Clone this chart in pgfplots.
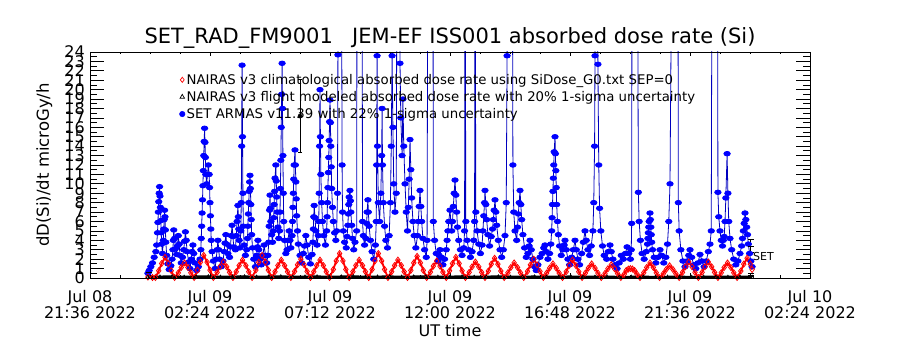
\documentclass[border=0pt]{standalone}
\usepackage{pgfplots}
\pgfplotsset{compat=1.18}
\usepackage{fontspec}
\setmainfont{DejaVu Sans}
\definecolor{setblue}{RGB}{0,0,255}
\definecolor{setline}{RGB}{0,0,190}
\definecolor{nred}{RGB}{255,0,0}
\begin{document}
\begin{tikzpicture}
\path[use as bounding box] (-90pt,-72pt) rectangle (810pt,278pt);
\begin{axis}[
  at={(0pt,0pt)}, anchor=south west,
  scale only axis, width=720pt, height=226pt,
  xmin=0, xmax=1728, ymin=0, ymax=24,
  xtick={0,288,576,864,1152,1440,1728},
  xticklabels={{Jul 08\\21:36 2022},{Jul 09\\02:24 2022},{Jul 09\\07:12 2022},{Jul 09\\12:00 2022},{Jul 09\\16:48 2022},{Jul 09\\21:36 2022},{Jul 10\\02:24 2022}},
  minor x tick num=3,
  ytick=\empty,
  tick align=inside,
  every tick/.style={black, line width=0.8pt},
  major tick length=4.5pt, minor tick length=2.5pt,
  axis line style={line width=0.9pt},
  xticklabel style={align=center, font=\fontsize{16}{13.5}\selectfont, inner sep=0pt, yshift=-12pt},
  legend style={draw=none, fill=none, inner sep=0pt, at={(axis description cs:0.124,0.91)}, anchor=north west, font=\fontsize{13.3}{13.3}\selectfont, row sep=2.5pt, nodes={inner sep=1.5pt}},
  legend cell align=left,
  legend image code/.code={\draw[#1] plot coordinates {(0pt,0pt)};},
]
\addlegendimage{nred, mark=diamond, mark size=2.6pt, line width=0.7pt}
\addlegendentry{NAIRAS v3 climatological absorbed dose rate using SiDose\_G0.txt SEP=0}
\addlegendimage{black, mark=triangle, mark size=2.6pt, line width=0.7pt}
\addlegendentry{NAIRAS v3 flight modeled absorbed dose rate with 20\% 1-sigma uncertainty}
\addlegendimage{setblue, mark=*, mark size=2.8pt}
\addlegendentry{SET ARMAS v11.39 with 22\% 1-sigma uncertainty}

% SET ARMAS (blue)
\addplot[forget plot, setline, line width=0.8pt, mark=*, mark size=2.3pt, mark options={setblue, draw=setblue, fill=setblue, xscale=1.4}] coordinates {
(139,0.5)(142,0.8)(146,1.2)(150,1.6)(154,2.2)(158,2.8)
(160,3.5)(162,4.8)(163,5.9)(164,7.0)(165,8.1)(166,9.0)(167,9.7)(168,8.7)(169,7.5)(170,6.1)(171,4.8)(172,3.6)
(174,2.6)(176,4.0)(177,5.2)(178,6.2)(179,7.2)(180,6.5)(181,5.1)(182,3.8)(184,2.4)(187,1.5)(190,0.9)(194,1.3)
(197,2.0)(199,3.0)(200,4.0)(201,5.1)(203,4.2)(205,3.1)
(208,2.5)(210,3.4)(212,4.5)(214,3.6)(216,2.4)(219,1.6)(222,2.2)
(225,3.0)(227,3.9)(229,4.9)(231,4.0)(233,2.8)(237,1.7)(240,1.0)
(243,2.0)(245,2.8)(247,3.5)(249,2.6)(252,1.6)(256,0.8)(260,1.2)(264,2.0)
(266,3.0)(267,4.2)(268,5.5)(269,6.9)(270,8.3)(271,9.8)(272,11.4)(273,13.0)(274,14.5)(275,15.9)(276,14.4)(277,12.8)(278,11.0)
(280,10.0)(282,11.0)(284,12.0)(286,11.0)(287,9.6)(288,8.0)(289,6.6)(290,5.2)(291,4.0)(293,2.8)(296,1.8)(300,1.0)
(303,2.0)(305,3.0)(307,4.0)(309,3.0)(311,2.0)(315,1.2)(319,1.8)
(322,2.8)(324,3.7)(326,4.6)(328,3.6)(331,2.6)
(335,2.2)(337,3.3)(339,4.5)(341,5.6)(343,4.4)(345,3.3)
(349,3.0)(351,4.5)(353,6.0)(355,7.7)(356,6.5)(357,5.2)(358,4.0)(360,3.2)
(362,5.0)(363,8.0)(364,14.0)(365,22.6)(366,15.0)(367,9.0)(368,5.5)(370,3.5)(373,2.4)(376,3.0)
(378,4.2)(379,5.5)(380,6.8)(381,8.0)(382,9.2)(383,10.2)(384,10.9)(385,9.5)(386,7.8)(387,6.2)(388,4.6)(390,3.2)(393,2.0)(397,1.2)
(400,2.4)(402,3.3)(403,4.0)(405,3.0)(408,2.0)(411,1.4)
(415,2.4)(418,3.5)(421,2.4)(424,1.6)(427,2.4)
(429,3.8)(430,5.5)(431,7.2)(432,8.8)(433,7.4)(434,6.0)(436,4.6)(438,3.8)
(440,5.0)(441,6.4)(442,7.8)(443,9.2)(444,10.6)(446,12.0)(447,10.3)(448,8.6)(449,7.0)(451,5.4)(453,4.2)
(455,5.0)(456,7.0)(457,9.5)(458,12.5)(459,16.0)(460,19.5)(461,22.8)(462,18.0)(463,13.0)(464,9.0)(465,6.0)(467,4.0)(470,2.6)
(473,3.0)(475,4.0)(478,5.0)(480,4.0)(482,3.2)
(485,4.5)(486,6.0)(487,7.5)(488,9.0)(489,10.5)(490,12.0)(492,13.6)(493,12.0)(494,10.2)(495,8.4)(496,6.6)(498,5.0)(500,3.6)(504,2.4)(508,1.6)(512,2.6)
(515,3.4)(518,4.5)(521,3.5)(525,2.2)(529,1.5)(533,2.5)
(535,3.8)(536,5.2)(537,6.5)(538,7.7)(540,6.4)(542,5.0)(545,3.5)(548,4.5)
(549,6.0)(550,9.0)(551,14.0)(552,20.0)(553,15.0)(554,11.0)(556,8.0)(558,6.0)(561,4.5)(565,3.5)
(568,5.0)(569,6.5)(570,8.0)(571,9.6)(572,11.2)(573,12.8)(574,14.6)(575,16.6)(576,18.9)(577,16.5)(578,14.0)(579,11.8)(580,9.5)(582,7.5)(584,6.0)(587,4.8)(590,4.0)
(592,5.0)(594,9.0)(595,23.7)(596,30)(604,30)(605,12.0)(606,7.0)(608,5.0)(611,3.8)
(615,3.2)(617,4.4)(619,5.6)(620,6.8)(621,7.8)(622,8.6)(624,9.3)(625,8.2)(626,7.0)(628,5.6)(630,4.2)(633,3.0)(636,3.8)
(640,5.0)(641,40)(653,40)(654,6.0)(656,4.5)(659,3.5)
(662,4.2)(664,5.8)(665,7.0)(667,8.3)(668,7.0)(670,5.5)(673,4.0)(677,2.8)(681,2.0)(685,3.5)
(687,6.0)(688,12.0)(689,23.6)(690,14.0)(692,8.0)(695,6.0)(698,9.0)(700,13.0)(701,18.0)(702,12.0)(704,8.0)(707,5.5)(710,4.0)(714,3.2)(718,4.5)(721,8.0)
(723,14.0)(725,23.6)(727,16.0)(729,10.0)(732,7.0)(735,9.0)(737,40)(743,40)(744,22.8)(746,17.0)(749,13.0)(751,19.0)(753,14.0)(756,10.0)(759,7.0)(762,5.0)
(764,7.5)(766,10.5)(768,14.7)(770,11.5)(772,8.5)(775,6.0)(778,4.5)(782,3.2)
(786,4.5)(788,6.0)(790,7.6)(792,9.3)(794,7.6)(796,6.0)(799,4.2)(803,3.0)(807,2.2)
(809,4.0)(811,40)(823,40)(824,6.0)(827,4.0)(831,2.6)(835,1.8)
(838,2.4)(840,3.0)(843,2.2)(847,1.4)(851,2.0)
(855,3.0)(857,4.0)(859,5.0)(861,6.0)(864,7.2)(866,6.0)(868,5.0)(870,6.0)(872,7.6)(874,9.0)(876,10.4)(878,8.8)(880,7.0)(882,5.4)(885,4.0)(889,3.0)(893,2.4)(897,3.2)
(899,5.0)(900,40)(902,6.0)(905,4.0)(909,3.0)(913,2.2)(917,2.8)(921,4.0)
(923,6.0)(924,40)(926,7.0)(929,5.0)(933,3.6)(937,2.6)(941,3.5)
(943,5.0)(945,6.6)(947,8.0)(948,9.3)(950,7.8)(952,6.2)(955,4.6)(959,3.4)(963,4.4)
(966,5.2)(968,6.2)(970,7.2)(972,8.3)(974,7.0)(976,5.6)(980,4.0)(984,3.0)(988,2.2)(992,3.0)(996,4.5)
(999,8.0)(1001,23.6)(1002,30)(1014,30)(1015,12.0)(1017,7.0)(1020,5.0)
(1024,4.0)(1026,5.4)(1028,6.8)(1030,8.0)(1032,9.3)(1034,7.8)(1036,6.2)(1039,4.6)(1043,3.2)(1047,2.2)
(1051,2.6)(1054,3.4)(1056,4.0)(1059,3.0)(1063,2.0)(1067,1.2)(1071,0.8)(1075,1.4)(1080,2.2)
(1085,2.6)(1089,3.2)(1092,3.5)(1095,2.8)(1099,2.0)(1103,2.6)
(1106,3.6)(1108,5.0)(1109,6.4)(1110,7.8)(1111,9.2)(1112,10.6)(1113,12.0)(1114,13.4)(1116,15.0)(1117,13.2)(1118,11.4)(1119,9.6)(1120,7.8)(1122,6.0)(1124,4.6)(1127,3.4)(1131,2.4)(1135,3.0)
(1138,3.5)(1140,4.0)(1143,3.0)(1147,2.0)(1151,1.4)(1156,2.2)(1160,3.0)
(1164,4.0)(1167,3.0)(1171,2.0)(1175,1.4)(1180,2.6)(1184,3.8)
(1188,5.0)(1191,4.0)(1195,3.0)(1199,2.4)(1203,3.4)(1207,5.0)
(1209,8.0)(1211,14.0)(1212,23.6)(1213,30)(1218,30)(1219,22.7)(1221,12.0)(1223,7.4)(1226,5.0)(1230,3.4)(1234,2.4)
(1240,2.0)(1244,2.8)(1248,3.5)(1251,2.8)(1255,2.0)(1260,1.4)(1265,1.0)(1270,1.6)(1275,2.4)(1280,2.0)
(1285,2.6)(1289,3.3)(1293,2.6)(1297,2.0)
(1299,3.0)(1300,5.8)(1301,40)(1314,40)(1316,9.1)(1318,6.0)(1321,4.0)(1325,2.6)(1330,2.0)(1335,2.8)
(1338,3.6)(1339,4.2)(1340,4.8)(1341,5.4)(1342,6.0)(1344,6.9)(1345,6.2)(1346,5.4)(1347,4.6)(1348,3.8)(1350,3.0)(1354,2.2)(1358,1.6)
(1363,2.2)(1368,3.0)(1372,2.4)(1377,1.6)(1382,2.2)(1386,3.6)
(1389,6.0)(1392,10.0)(1397,40)(1411,40)(1412,8.0)(1414,5.0)(1418,3.0)(1423,1.8)(1428,1.2)(1433,1.8)
(1437,2.4)(1440,3.0)(1444,2.2)(1449,1.4)(1454,1.0)
(1459,1.6)(1464,2.5)(1469,1.8)(1474,1.2)(1479,1.8)(1484,2.8)(1488,3.6)
(1491,5.0)(1493,40)(1506,40)(1507,9.1)(1509,6.5)(1512,5.0)(1515,4.0)
(1518,3.4)(1520,4.0)(1522,4.4)(1524,6.0)(1526,8.5)(1529,13.2)(1531,9.0)(1533,6.0)(1536,4.2)(1540,3.0)(1545,2.0)(1550,1.4)(1555,1.8)(1560,2.6)
(1564,3.4)(1566,4.2)(1568,5.0)(1570,5.8)(1572,6.9)(1574,6.2)(1576,5.4)(1578,4.6)(1580,3.6)(1583,2.6)(1586,1.8)(1589,1.2)
};

% NAIRAS climatological (red)
\addplot[forget plot, nred, line width=1.8pt, mark=diamond, mark size=3pt, mark options={line width=0.8pt}] coordinates {
(139,0.10)(150,0.05)(157,0.05)(165,0.77)(172,1.54)(180,2.2)(188,1.54)(195,0.77)(203,0.05)
(212,0.56)(219,1.12)(227,1.6)(235,1.12)(242,0.56)(250,0.05)
(258,0.84)(265,1.68)(273,2.4)(281,1.68)(288,0.84)(296,0.05)
(305,0.60)(312,1.19)(320,1.7)(328,1.19)(335,0.60)(343,0.05)
(351,0.67)(358,1.33)(366,1.9)(374,1.33)(381,0.67)(389,0.05)
(398,0.84)(405,1.68)(413,2.4)(421,1.68)(428,0.84)(436,0.05)
(444,0.67)(451,1.33)(459,1.9)(467,1.33)(474,0.67)(482,0.05)
(491,0.70)(498,1.40)(506,2.0)(514,1.40)(521,0.70)(529,0.05)
(537,0.67)(544,1.33)(552,1.9)(560,1.33)(567,0.67)(575,0.05)
(584,0.91)(591,1.82)(599,2.6)(607,1.82)(614,0.91)(622,0.05)
(631,0.67)(638,1.33)(646,1.9)(654,1.33)(661,0.67)(669,0.05)
(677,0.91)(684,1.82)(692,2.6)(700,1.82)(707,0.91)(715,0.05)
(724,0.67)(731,1.33)(739,1.9)(747,1.33)(754,0.67)(762,0.05)
(770,0.81)(777,1.61)(785,2.3)(793,1.61)(800,0.81)(808,0.05)
(817,0.63)(824,1.26)(832,1.8)(840,1.26)(847,0.63)(855,0.05)
(863,0.77)(870,1.54)(878,2.2)(886,1.54)(893,0.77)(901,0.05)
(910,0.60)(917,1.19)(925,1.7)(933,1.19)(940,0.60)(948,0.05)
(956,0.74)(963,1.47)(971,2.1)(979,1.47)(986,0.74)(994,0.05)
(1003,0.56)(1010,1.12)(1018,1.6)(1026,1.12)(1033,0.56)(1041,0.05)
(1050,0.70)(1057,1.40)(1065,2.0)(1073,1.40)(1080,0.70)(1088,0.05)
(1096,0.53)(1103,1.05)(1111,1.5)(1119,1.05)(1126,0.53)(1134,0.05)
(1143,0.67)(1150,1.33)(1158,1.9)(1166,1.33)(1173,0.67)(1181,0.05)
(1189,0.53)(1196,1.05)(1204,1.5)(1212,1.05)(1219,0.53)(1227,0.05)
(1236,0.49)(1243,0.98)(1251,1.4)(1259,0.98)(1266,0.49)(1274,0.05)
(1282,0.40)(1287,0.80)(1292,0.95)(1297,1.0)(1302,0.95)(1307,0.80)(1313,0.40)(1320,0.05)
(1329,0.56)(1336,1.12)(1344,1.6)(1352,1.12)(1359,0.56)(1367,0.05)
(1376,0.46)(1383,0.91)(1391,1.3)(1399,0.91)(1406,0.46)(1414,0.05)
(1422,0.60)(1429,1.19)(1437,1.7)(1445,1.19)(1452,0.60)(1460,0.05)
(1469,0.60)(1476,1.19)(1484,1.7)(1492,1.19)(1499,0.60)(1507,0.05)
(1515,0.56)(1522,1.12)(1530,1.6)(1538,1.12)(1545,0.56)(1553,0.05)
(1562,0.74)(1569,1.47)(1577,2.1)(1585,1.47)(1589,0.9)
};

% NAIRAS flight modeled (black)
\addplot[forget plot, black, line width=2.6pt, mark=triangle, mark size=2pt, mark options={line width=0.6pt}] coordinates {
(139,0.10)(168,0.12)(197,0.15)(226,0.10)(255,0.13)(284,0.15)(313,0.10)(342,0.12)(371,0.14)(400,0.10)
(429,0.13)(458,0.15)(487,0.10)(516,0.12)(545,0.14)(574,0.10)(603,0.13)(632,0.15)(661,0.10)(690,0.12)
(719,0.14)(748,0.10)(777,0.13)(806,0.14)(835,0.10)(864,0.12)(893,0.14)(922,0.10)(951,0.12)(980,0.14)
(1009,0.10)(1038,0.12)(1067,0.13)(1096,0.10)(1125,0.12)(1154,0.13)(1183,0.10)(1212,0.11)(1241,0.12)(1270,0.09)
(1299,0.10)(1328,0.11)(1357,0.09)(1386,0.10)(1415,0.11)(1444,0.09)(1473,0.10)(1502,0.11)(1531,0.10)(1560,0.11)(1589,0.10)
};

% error bars
\addplot[forget plot, black, only marks, mark=-, mark size=3pt, mark options={line width=0.8pt},
  error bars/.cd, y dir=both, y explicit, error bar style={black, line width=0.8pt},
  error mark options={rotate=90, mark size=3pt, black, line width=0.8pt}] coordinates {
(141,0.55) +- (0,0.3)
(1586,3.4) +- (0,0.65)
(1586,0.3) +- (0,0.15)
};
\addplot[forget plot, black, only marks, mark=none,
  error bars/.cd, y dir=both, y explicit, error bar style={black, line width=0.8pt},
  error mark options={rotate=90, mark size=2pt, black, line width=0.8pt}] coordinates {
(504,17.2) +- (0,3.9)
};
\node[anchor=west, inner sep=0pt, font=\fontsize{11}{11}\selectfont] at (axis cs:1591,2.3) {SET};
\end{axis}
% second axis: y ticks (long) and y tick labels
\begin{axis}[
  at={(0pt,0pt)}, anchor=south west,
  scale only axis, width=720pt, height=226pt,
  xmin=0, xmax=1728, ymin=0, ymax=24,
  xtick=\empty,
  ytick={0,1,...,24},
  minor y tick num=1,
  tick align=inside,
  every tick/.style={black, line width=0.8pt},
  major tick length=14.5pt, minor tick length=7pt,
  axis line style={line width=0.9pt},
  yticklabel style={font=\fontsize{16}{16}\selectfont, inner sep=0pt, xshift=-5pt},
  /pgf/number format/assume math mode=true,
]
\end{axis}
\node[anchor=base, font=\fontsize{21}{21}\selectfont] at (360pt,234pt) {SET\_RAD\_FM9001\hspace{0.6em} JEM-EF ISS001 absorbed dose rate (Si)};
\node[anchor=base, rotate=90, font=\fontsize{16.5}{16.5}\selectfont] at (-41pt,113pt) {dD(Si)/dt microGy/h};
\node[anchor=base, font=\fontsize{16}{16}\selectfont] at (360pt,-59pt) {UT time};
\end{tikzpicture}
\end{document}
